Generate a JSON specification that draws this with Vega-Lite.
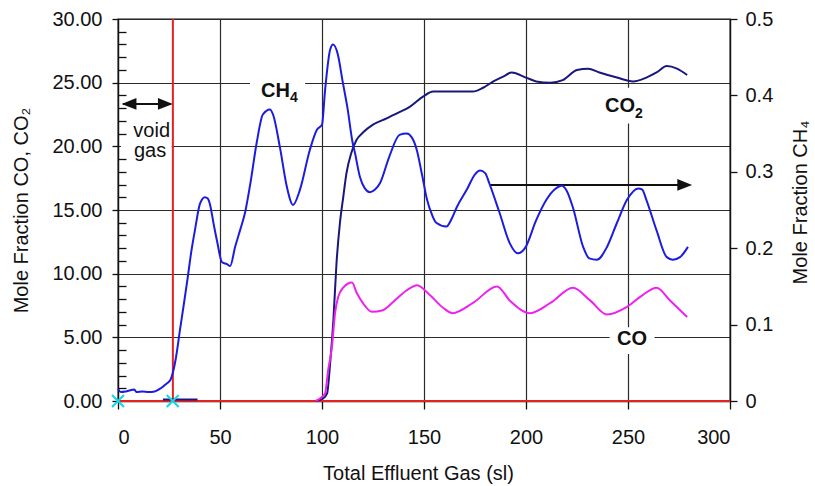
{
  "$schema": "https://vega.github.io/schema/vega-lite/v6.json",
  "width": 612,
  "height": 382,
  "autosize": {"type": "none"},
  "padding": {"left": 118, "top": 19, "right": 85, "bottom": 85},
  "background": "white",
  "config": {
    "view": {"stroke": "#111", "strokeWidth": 1.3},
    "font": "Liberation Sans",
    "axis": {
      "labelFont": "Liberation Sans",
      "labelFontSize": 20,
      "labelColor": "#111",
      "titleFont": "Liberation Sans",
      "titleFontSize": 20,
      "titleFontWeight": "normal",
      "titleColor": "#111",
      "domainColor": "#111",
      "domainWidth": 1.3,
      "tickColor": "#111",
      "tickWidth": 1.3,
      "gridColor": "#2a2a2a",
      "gridWidth": 1.2,
      "labelOverlap": false
    }
  },
  "datasets": {
    "gas": [
      {"s": "CO2b", "x": 22, "y": 0.12}, {"s": "CO2b", "x": 39, "y": 0.12},
      {"s": "CO2", "x": 97, "y": 0}, {"s": "CO2", "x": 100.5, "y": 0.2}, {"s": "CO2", "x": 102.5, "y": 0.6},
      {"s": "CO2", "x": 104, "y": 3.0}, {"s": "CO2", "x": 105.6, "y": 6.4}, {"s": "CO2", "x": 107.1, "y": 10.8},
      {"s": "CO2", "x": 108.8, "y": 14.0}, {"s": "CO2", "x": 110.4, "y": 16.0}, {"s": "CO2", "x": 112, "y": 17.9},
      {"s": "CO2", "x": 114.4, "y": 19.5}, {"s": "CO2", "x": 116.9, "y": 20.5}, {"s": "CO2", "x": 120.2, "y": 21.1},
      {"s": "CO2", "x": 125, "y": 21.7}, {"s": "CO2", "x": 131.7, "y": 22.2}, {"s": "CO2", "x": 138.2, "y": 22.7},
      {"s": "CO2", "x": 143, "y": 23.1}, {"s": "CO2", "x": 149.5, "y": 23.9}, {"s": "CO2", "x": 154.5, "y": 24.3},
      {"s": "CO2", "x": 161, "y": 24.3}, {"s": "CO2", "x": 174, "y": 24.3}, {"s": "CO2", "x": 179, "y": 24.6},
      {"s": "CO2", "x": 184, "y": 25.1}, {"s": "CO2", "x": 189, "y": 25.5}, {"s": "CO2", "x": 193, "y": 25.8},
      {"s": "CO2", "x": 200, "y": 25.4}, {"s": "CO2", "x": 205, "y": 25.1}, {"s": "CO2", "x": 212, "y": 25.0},
      {"s": "CO2", "x": 218, "y": 25.2}, {"s": "CO2", "x": 225, "y": 26.0}, {"s": "CO2", "x": 230.4, "y": 26.1},
      {"s": "CO2", "x": 236, "y": 25.8}, {"s": "CO2", "x": 244.6, "y": 25.4}, {"s": "CO2", "x": 252.5, "y": 25.1},
      {"s": "CO2", "x": 259, "y": 25.4}, {"s": "CO2", "x": 264, "y": 25.8}, {"s": "CO2", "x": 269, "y": 26.3},
      {"s": "CO2", "x": 274, "y": 26.1}, {"s": "CO2", "x": 279, "y": 25.6},
      {"s": "CO", "x": 97, "y": 0}, {"s": "CO", "x": 99, "y": 0.2}, {"s": "CO", "x": 101.5, "y": 0.6},
      {"s": "CO", "x": 103, "y": 2.4}, {"s": "CO", "x": 104.9, "y": 4.3}, {"s": "CO", "x": 106.4, "y": 6.9},
      {"s": "CO", "x": 108, "y": 8.2}, {"s": "CO", "x": 110.4, "y": 8.9}, {"s": "CO", "x": 114.7, "y": 9.3},
      {"s": "CO", "x": 117, "y": 8.5}, {"s": "CO", "x": 120, "y": 7.7}, {"s": "CO", "x": 124.5, "y": 7.0},
      {"s": "CO", "x": 129.4, "y": 7.1}, {"s": "CO", "x": 135, "y": 7.8}, {"s": "CO", "x": 141.6, "y": 8.7},
      {"s": "CO", "x": 146.6, "y": 9.1}, {"s": "CO", "x": 153, "y": 8.3}, {"s": "CO", "x": 159.5, "y": 7.3},
      {"s": "CO", "x": 164, "y": 6.9}, {"s": "CO", "x": 174, "y": 7.7}, {"s": "CO", "x": 185.8, "y": 9.0},
      {"s": "CO", "x": 192, "y": 7.9}, {"s": "CO", "x": 202, "y": 6.9}, {"s": "CO", "x": 212, "y": 7.7},
      {"s": "CO", "x": 223, "y": 8.9}, {"s": "CO", "x": 231.4, "y": 7.9}, {"s": "CO", "x": 239.7, "y": 6.8},
      {"s": "CO", "x": 249.5, "y": 7.4}, {"s": "CO", "x": 257, "y": 8.3}, {"s": "CO", "x": 264, "y": 8.9},
      {"s": "CO", "x": 270.6, "y": 7.9}, {"s": "CO", "x": 279, "y": 6.6}
    ],
    "ch4": [
      {"x": 0, "v": 0.0158}, {"x": 1.5, "v": 0.0117}, {"x": 4, "v": 0.0125}, {"x": 8, "v": 0.015},
      {"x": 9, "v": 0.0117}, {"x": 12, "v": 0.0125}, {"x": 15, "v": 0.0117}, {"x": 18, "v": 0.0125},
      {"x": 21, "v": 0.0167}, {"x": 24, "v": 0.0233}, {"x": 25.5, "v": 0.0267}, {"x": 27, "v": 0.0383},
      {"x": 28.5, "v": 0.0583}, {"x": 30.4, "v": 0.0933}, {"x": 32, "v": 0.1217}, {"x": 34, "v": 0.1583},
      {"x": 36, "v": 0.1967}, {"x": 37.7, "v": 0.2233}, {"x": 40.2, "v": 0.2583}, {"x": 42.6, "v": 0.2667},
      {"x": 44, "v": 0.265}, {"x": 45, "v": 0.2583}, {"x": 47, "v": 0.23}, {"x": 48.5, "v": 0.21},
      {"x": 51, "v": 0.1817}, {"x": 53.4, "v": 0.1792}, {"x": 55, "v": 0.1767}, {"x": 57.4, "v": 0.2017},
      {"x": 60, "v": 0.225}, {"x": 62.3, "v": 0.2467}, {"x": 65, "v": 0.2867}, {"x": 68, "v": 0.3383},
      {"x": 71, "v": 0.375}, {"x": 74.5, "v": 0.3817}, {"x": 76, "v": 0.375}, {"x": 79.4, "v": 0.3317},
      {"x": 82.8, "v": 0.28}, {"x": 85.8, "v": 0.2567}, {"x": 89.2, "v": 0.2767}, {"x": 94, "v": 0.3283},
      {"x": 97.5, "v": 0.355}, {"x": 100, "v": 0.3617}, {"x": 101.5, "v": 0.4067}, {"x": 104, "v": 0.46},
      {"x": 105.4, "v": 0.4667}, {"x": 107.8, "v": 0.4533}, {"x": 110, "v": 0.42}, {"x": 112.5, "v": 0.3833},
      {"x": 115, "v": 0.3383}, {"x": 116, "v": 0.3267}, {"x": 118.6, "v": 0.2933}, {"x": 121, "v": 0.2783},
      {"x": 123.5, "v": 0.2733}, {"x": 126, "v": 0.2767}, {"x": 128.4, "v": 0.285}, {"x": 133, "v": 0.32},
      {"x": 138, "v": 0.3483}, {"x": 141.5, "v": 0.35}, {"x": 144, "v": 0.345}, {"x": 146.5, "v": 0.3283},
      {"x": 149, "v": 0.2967}, {"x": 151.5, "v": 0.2633}, {"x": 154, "v": 0.2433}, {"x": 156, "v": 0.2333},
      {"x": 161, "v": 0.2283}, {"x": 163.5, "v": 0.2383}, {"x": 166, "v": 0.2533}, {"x": 171, "v": 0.2767},
      {"x": 175, "v": 0.2967}, {"x": 177.5, "v": 0.3017}, {"x": 180, "v": 0.2983}, {"x": 182, "v": 0.285},
      {"x": 187, "v": 0.2467}, {"x": 192, "v": 0.2067}, {"x": 196, "v": 0.1933}, {"x": 199.5, "v": 0.2},
      {"x": 205, "v": 0.2367}, {"x": 210, "v": 0.2633}, {"x": 214, "v": 0.2767}, {"x": 217.6, "v": 0.2817},
      {"x": 220, "v": 0.275}, {"x": 223, "v": 0.2533}, {"x": 228, "v": 0.2017}, {"x": 231, "v": 0.1867},
      {"x": 234.8, "v": 0.185}, {"x": 239.7, "v": 0.2017}, {"x": 244.6, "v": 0.2333}, {"x": 249.5, "v": 0.2633},
      {"x": 255, "v": 0.2783}, {"x": 257, "v": 0.2767}, {"x": 259, "v": 0.2633}, {"x": 264, "v": 0.2233},
      {"x": 269, "v": 0.1883}, {"x": 272, "v": 0.185}, {"x": 275.5, "v": 0.1883}, {"x": 279.4, "v": 0.2017}
    ],
    "boxes": [
      {"x": 64.7, "x2": 91.7, "y": 24.5, "y2": 25.5},
      {"x": 237.7, "x2": 258.3, "y": 21.8, "y2": 24.6},
      {"x": 241, "x2": 263, "y": 3.7, "y2": 5.8},
      {"x": 1.5, "x2": 26.3, "y": 19.5, "y2": 20.5}
    ],
    "reds": [
      {"x": 26.9, "x2": 26.9, "y": 0, "y2": 30},
      {"x": 0, "x2": 300, "y": 0, "y2": 0}
    ],
    "arrows": [
      {"x": 2.5, "x2": 26, "y": 23.33, "y2": 23.33},
      {"x": 182.4, "x2": 277, "y": 16.97, "y2": 16.97}
    ],
    "heads": [
      {"d": "l", "x": 5.4, "y": 23.33},
      {"d": "r", "x": 23.2, "y": 23.33},
      {"d": "r", "x": 277.8, "y": 16.97}
    ],
    "xs": [{"x": 0, "y": 0}, {"x": 26.8, "y": 0}],
    "tnorm": [{"x": 16.5, "y": 20.76, "t": "void"}, {"x": 15.7, "y": 19.17, "t": "gas"}],
    "tbold": [{"x": 84.3, "y": 23.9, "t": "CH"}, {"x": 253.4, "y": 22.72, "t": "CO"}, {"x": 259.3, "y": 4.4, "t": "CO"}],
    "tsub": [{"x": 84.3, "y": 23.5, "t": "4"}, {"x": 253.4, "y": 22.2, "t": "2"}]
  },
  "layer": [
    {
      "layer": [
        {
          "data": {"name": "boxes"},
          "mark": {"type": "rect", "fill": "white", "stroke": null},
          "encoding": {
            "x": {"field": "x", "type": "quantitative", "scale": {"domain": [0, 300], "nice": false, "zero": false},
              "axis": {"title": "Total Effluent Gas (sl)", "values": [0, 50, 100, 150, 200, 250, 300], "tickCount": 20, "grid": true,
                "tickSize": 8, "labelPadding": 18, "titleX": 300, "titleY": 72, "titleBaseline": "middle", "titleAlign": "center"}},
            "x2": {"field": "x2"},
            "y": {"field": "y", "type": "quantitative", "scale": {"domain": [0, 30], "nice": false, "zero": false},
              "axis": {"title": "Mole Fraction CO, CO₂",
                "values": [0,1,2,3,4,5,6,7,8,9,10,11,12,13,14,15,16,17,18,19,20,21,22,23,24,25,26,27,28,29,30],
                "tickCount": 100,
                "labelOverlap": false,
                "labelExpr": "datum.value % 5 === 0 ? format(datum.value, '.2f') : ''",
                "grid": true,
                "gridOpacity": {"condition": {"test": "datum.value % 5 === 0", "value": 1}, "value": 0},
                "tickSize": {"condition": {"test": "datum.value % 5 === 0", "value": 6}, "value": -8},
                "labelPadding": 10,
                "titleAngle": -90, "titleX": -97, "titleY": 191, "titleBaseline": "middle", "titleAlign": "center"}},
            "y2": {"field": "y2"}
          }
        },
        {
          "data": {"name": "reds"},
          "mark": {"type": "rule", "stroke": "#e52222", "strokeWidth": 2},
          "encoding": {
            "x": {"field": "x", "type": "quantitative"},
            "x2": {"field": "x2"},
            "y": {"field": "y", "type": "quantitative"},
            "y2": {"field": "y2"}
          }
        },
        {
          "data": {"name": "gas"},
          "mark": {"type": "line", "strokeWidth": 2, "interpolate": "monotone"},
          "encoding": {
            "x": {"field": "x", "type": "quantitative"},
            "y": {"field": "y", "type": "quantitative"},
            "detail": {"field": "s"},
            "color": {"field": "s", "type": "nominal", "legend": null,
              "scale": {"domain": ["CO2", "CO2b", "CO"], "range": ["#18187c", "#18187c", "#ee22ee"]}}
          }
        },
        {
          "data": {"name": "arrows"},
          "mark": {"type": "rule", "stroke": "#111", "strokeWidth": 2},
          "encoding": {
            "x": {"field": "x", "type": "quantitative"},
            "x2": {"field": "x2"},
            "y": {"field": "y", "type": "quantitative"},
            "y2": {"field": "y2"}
          }
        },
        {
          "data": {"name": "heads"},
          "mark": {"type": "point", "filled": true, "fill": "#111", "stroke": null, "opacity": 1, "size": 220},
          "encoding": {
            "x": {"field": "x", "type": "quantitative"},
            "y": {"field": "y", "type": "quantitative"},
            "shape": {"field": "d", "type": "nominal", "legend": null,
              "scale": {"domain": ["l", "r"], "range": ["M-1,0L1,-0.8L1,0.8Z", "M1,0L-1,-0.8L-1,0.8Z"]}}
          }
        },
        {
          "data": {"name": "xs"},
          "mark": {"type": "point", "shape": "M-1,-1L1,1M-1,1L1,-1", "filled": false, "stroke": "#10d8e8", "strokeWidth": 2, "size": 144, "opacity": 1},
          "encoding": {
            "x": {"field": "x", "type": "quantitative"},
            "y": {"field": "y", "type": "quantitative"}
          }
        },
        {
          "data": {"name": "tnorm"},
          "mark": {"type": "text", "font": "Liberation Sans", "fontSize": 20, "color": "#111", "align": "center", "baseline": "alphabetic"},
          "encoding": {
            "x": {"field": "x", "type": "quantitative"},
            "y": {"field": "y", "type": "quantitative"},
            "text": {"field": "t"}
          }
        },
        {
          "data": {"name": "tbold"},
          "mark": {"type": "text", "font": "Liberation Sans", "fontSize": 20, "fontWeight": "bold", "color": "#111", "align": "right", "baseline": "alphabetic"},
          "encoding": {
            "x": {"field": "x", "type": "quantitative"},
            "y": {"field": "y", "type": "quantitative"},
            "text": {"field": "t"}
          }
        },
        {
          "data": {"name": "tsub"},
          "mark": {"type": "text", "font": "Liberation Sans", "fontSize": 14, "fontWeight": "bold", "color": "#111", "align": "left", "baseline": "alphabetic"},
          "encoding": {
            "x": {"field": "x", "type": "quantitative"},
            "y": {"field": "y", "type": "quantitative"},
            "text": {"field": "t"}
          }
        }
      ]
    },
    {
      "data": {"name": "ch4"},
      "mark": {"type": "line", "stroke": "#1c1ce0", "strokeWidth": 2, "interpolate": "monotone"},
      "encoding": {
        "x": {"field": "x", "type": "quantitative"},
        "y": {"field": "v", "type": "quantitative", "scale": {"domain": [0, 0.5], "nice": false, "zero": false},
          "axis": {"orient": "right", "title": "Mole Fraction CH₄", "values": [0, 0.1, 0.2, 0.3, 0.4, 0.5], "tickCount": 20,
            "format": ".1~f", "grid": false, "tickSize": 7, "labelPadding": 8,
            "titleAngle": -90, "titleX": 70, "titleY": 183, "titleBaseline": "middle", "titleAlign": "center"}}
      }
    }
  ],
  "resolve": {"scale": {"y": "independent"}}
}
